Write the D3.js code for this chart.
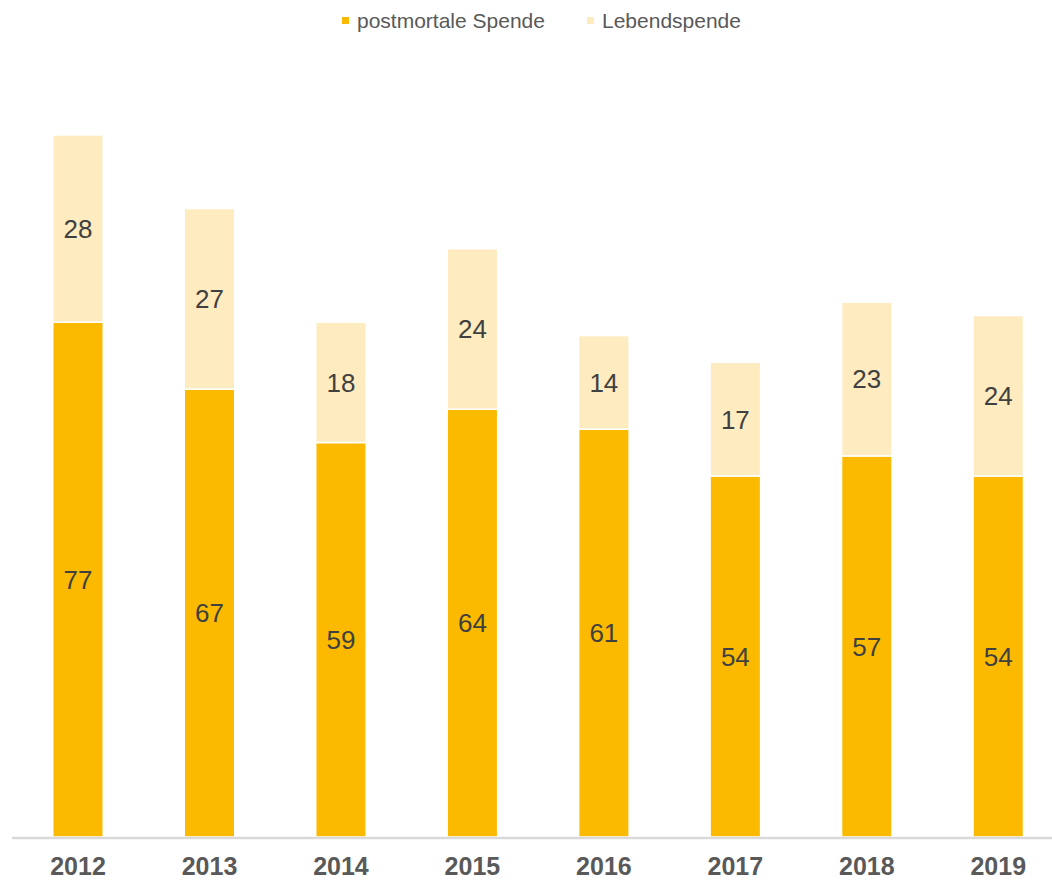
<!DOCTYPE html>
<html><head><meta charset="utf-8">
<script src="https://cdn.jsdelivr.net/npm/d3@7"></script>
<style>body{margin:0;background:#fff;}svg{display:block;font-family:"Liberation Sans",Arial,sans-serif;}</style>
</head><body>
<svg id="c" width="1052" height="881"></svg>
<script>
const years = ["2012","2013","2014","2015","2016","2017","2018","2019"];
const postmortal = [77,67,59,64,61,54,57,54];
const lebend = [28,27,18,24,14,17,23,24];
const seriesNames = ["postmortale Spende","Lebendspende"];
const colors = ["#FBBA00","#FEEBC0"];

const svg = d3.select("#c");
const x = d3.scaleBand().domain(years).range([12.3,1064]).paddingInner(0.616).paddingOuter(0.308);
const y = d3.scaleLinear().domain([0,105]).range([837,135]);

const data = years.map((yr,i)=>({year:yr, p:postmortal[i], l:lebend[i]}));
const stack = d3.stack().keys(["p","l"])(data);

stack.forEach((s,si)=>{
  const g = svg.append("g");
  g.selectAll("rect").data(s).join("rect")
    .attr("x",d=>x(d.data.year))
    .attr("width",x.bandwidth())
    .attr("y",d=>y(d[1]))
    .attr("height",d=>y(d[0])-y(d[1]))
    .attr("fill",colors[si])
    .attr("stroke","#fff").attr("stroke-width",1.5);
  g.selectAll("text").data(s).join("text")
    .attr("x",d=>x(d.data.year)+x.bandwidth()/2)
    .attr("y",d=>(y(d[0])+y(d[1]))/2)
    .attr("dy","0.36em")
    .attr("text-anchor","middle")
    .attr("font-size",26)
    .attr("fill","#404040")
    .text(d=>d[1]-d[0]);
});

svg.append("line").attr("x1",12).attr("x2",1052).attr("y1",838).attr("y2",838)
  .attr("stroke","#d9d9d9").attr("stroke-width",2.5);

const xAxis = svg.append("g").attr("transform","translate(0,838)")
  .call(d3.axisBottom(x).tickSize(0).tickPadding(0));
xAxis.select(".domain").remove();
xAxis.selectAll("text").attr("y",37).attr("dy",0).attr("font-size",25).attr("font-weight","bold")
  .attr("fill","#595959").attr("font-family","'Liberation Sans',Arial,sans-serif");

const legX = [342,587];
seriesNames.forEach((n,i)=>{
  svg.append("rect").attr("x",legX[i]).attr("y",17).attr("width",7).attr("height",7).attr("fill",colors[i]);
  svg.append("text").attr("x",legX[i]+15).attr("y",28).attr("font-size",21).attr("fill","#595959").text(n);
});
</script>
</body></html>
